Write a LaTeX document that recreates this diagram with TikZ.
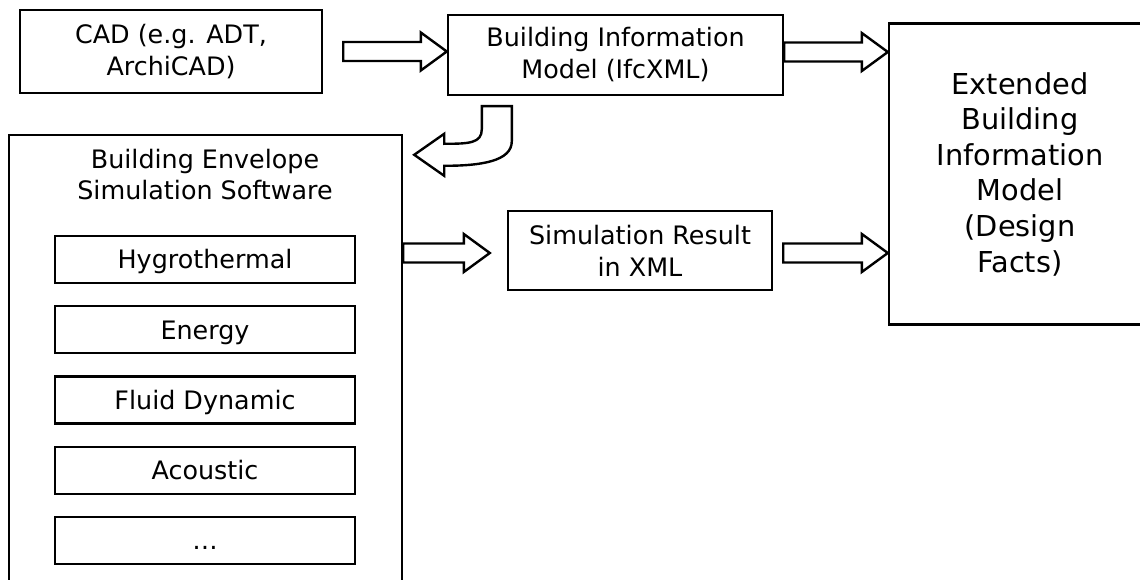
\documentclass[tikz,border=0pt]{standalone}
\usepackage{fontspec}
\setmainfont{DejaVu Sans}
\usetikzlibrary{calc}

\tikzset{
  box/.style={draw, line width=2.4pt, rectangle, inner sep=0pt, align=center,
              font=\fontsize{25.4}{32}\selectfont},
  onerow/.style={text height=18.5pt, text depth=0pt},
  module/.style={box, onerow, minimum width=300pt, minimum height=47pt},
  bigtext/.style={font=\fontsize{28.8}{35.6}\selectfont},
  blockarrow/.style={draw, line width=2.4pt, fill=white, line join=miter},
}

% horizontal block arrow: #1 = start point (gives the y), #2 = point whose x is the tip
\newcommand{\fatarrow}[2]{%
  \draw[blockarrow] let \p1=#1, \p2=#2 in
    (\x1,\y1+9.5pt) -- (\x2-26pt,\y1+9.5pt) -- (\x2-26pt,\y1+19pt) -- (\x2,\y1)
    -- (\x2-26pt,\y1-19pt) -- (\x2-26pt,\y1-9.5pt) -- (\x1,\y1-9.5pt) -- cycle;}

\begin{document}
\begin{tikzpicture}[x=1pt, y=-1pt]
  \useasboundingbox (0,0) rectangle (1140,580);
  \clip (0,0) rectangle (1140,580);

  % top row
  \node[box, minimum width=302pt, minimum height=83pt] (cad) at (171,51.5)
    {CAD (e.g. ADT,\\ArchiCAD)};
  \node[box, minimum width=335pt, minimum height=80pt] (bim) at (615.5,55)
    {Building Information\\Model (IfcXML)};
  \node[box, bigtext, minimum width=262pt, minimum height=301pt] (ebim) at (1020,174)
    {Extended\\Building\\Information\\Model\\(Design\\Facts)};

  % simulation software group
  \node[box, minimum width=393pt, minimum height=485pt] (bes) at (205.5,377.5) {};
  \node[align=center, inner sep=0pt, anchor=north, font=\fontsize{25.4}{31}\selectfont]
    (bestitle) at (205,149.5) {Building Envelope\\Simulation Software};
  \node[module] (hyg) at (205,259.5)  {Hygrothermal};
  \node[module] (ene) at (205,329.75) {Energy};
  \node[module] (flu) at (205,400)    {Fluid Dynamic};
  \node[module] (aco) at (205,470.25) {Acoustic};
  \node[module] (etc) at (205,540.5)  {\dots};

  % result
  \node[box, minimum width=264pt, minimum height=79pt] (sim) at (640,250.5)
    {Simulation Result\\in XML};

  % straight block arrows
  \fatarrow{($(cad.east)+(20,0)$)}{(bim.west)}
  \fatarrow{($(bim.east)+(0,-3)$)}{(ebim.west)}
  \fatarrow{($(bes.east |- sim.west)+(0,2.5)$)}{($(sim.west)+(-17,0)$)}
  \fatarrow{($(sim.east)+(10,2.5)$)}{(ebim.west)}

  % bent block arrow from the model down into the simulation software
  \coordinate (cs) at ($(bim.south west)+(35,10)$);
  \coordinate (ct) at ($(bes.north east)+(11,21)$);
  \draw[blockarrow] (cs) -- ++(30,0) -- ++(0,35)
    .. controls +(0,20) and +(37,0) .. ($(ct)+(30,11)$)
    -- ++(0,10) -- (ct) -- ++(30,-21) -- ++(0,10)
    .. controls +(25,0) and +(0,14) .. ($(cs)+(0,23)$) -- cycle;
\end{tikzpicture}
\end{document}
